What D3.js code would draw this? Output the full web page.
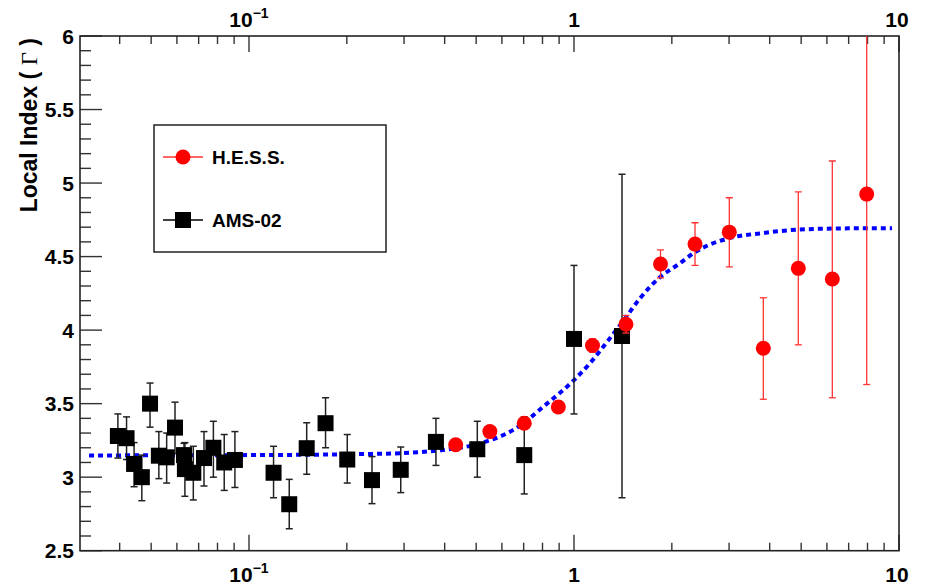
<!DOCTYPE html>
<html>
<head>
<meta charset="utf-8">
<script src="https://cdn.jsdelivr.net/npm/d3@7"></script>
<style>
    body { margin: 0; background: #fff; }
    text { font-family: "Liberation Sans", Arial, sans-serif; font-weight: bold; fill: #000; }
</style>
</head>
<body>
<div id="chart"></div>
<script>
// AMS-02 points (energy in TeV, local index, lower and upper error bounds)
const amsEnergy = [0.0395, 0.0420, 0.0443, 0.0468, 0.0496, 0.0528, 0.0558, 0.0592, 0.0631, 0.0635,
    0.0674, 0.0727, 0.0777, 0.0839, 0.0905, 0.119, 0.133, 0.1505, 0.172, 0.2006,
    0.239, 0.293, 0.376, 0.504, 0.703, 1.0, 1.405];
const amsIndex = [3.28, 3.265, 3.09, 3.0, 3.50, 3.146, 3.135, 3.337, 3.15, 3.055,
    3.03, 3.13, 3.20, 3.10, 3.117, 3.03, 2.816, 3.197, 3.367, 3.12,
    2.98, 3.05, 3.24, 3.19, 3.15, 3.94, 3.96];
const amsLow = [3.13, 3.12, 2.935, 2.84, 3.34, 2.99, 2.96, 3.16, 3.07, 2.87,
    2.845, 2.94, 3.0, 2.91, 2.93, 2.86, 2.65, 3.02, 3.2, 2.96,
    2.82, 2.895, 3.08, 3.0, 2.886, 3.43, 2.86];
const amsHigh = [3.43, 3.41, 3.235, 3.15, 3.64, 3.31, 3.30, 3.51, 3.23, 3.235,
    3.21, 3.31, 3.38, 3.29, 3.31, 3.21, 2.985, 3.37, 3.54, 3.29,
    3.14, 3.205, 3.40, 3.38, 3.41, 4.44, 5.06];

// H.E.S.S. points
const hessEnergy = [0.4325, 0.551, 0.703, 0.895, 1.14, 1.445, 1.846, 2.357, 3.005, 3.824, 4.90, 6.235, 7.955];
const hessIndex = [3.22, 3.31, 3.367, 3.477, 3.895, 4.04, 4.45, 4.585, 4.666, 3.877, 4.42, 4.348, 4.925];
const hessLow = [3.19, 3.28, 3.337, 3.44, 3.85, 3.98, 4.355, 4.44, 4.43, 3.53, 3.90, 3.54, 3.63];
const hessHigh = [3.25, 3.34, 3.397, 3.515, 3.94, 4.10, 4.545, 4.73, 4.90, 4.22, 4.94, 5.15, 6.3];

// fitted curve
const fitEnergy = [0.0322, 0.1, 0.2046, 0.2914, 0.376, 0.514, 0.649, 0.826, 1.0, 1.12, 1.264,
    1.415, 1.597, 1.839, 2.12, 2.357, 3.0, 3.815, 4.96, 7.07, 9.52];
const fitIndex = [3.148, 3.150, 3.156, 3.163, 3.18, 3.23, 3.32, 3.50, 3.66, 3.775, 3.92,
    4.06, 4.217, 4.36, 4.455, 4.53, 4.625, 4.66, 4.684, 4.692, 4.693];

const yTicks = [2.5, 3, 3.5, 4, 4.5, 5, 5.5, 6];
const xMajor = [0.1, 1, 10];
const xLabels = [["10", "\u22121"], ["1", ""], ["10", ""]];

const width = 926, height = 585;
const plotLeft = 80, plotRight = 899, plotTop = 36, plotBottom = 550.7;

const svg = d3.select("#chart").append("svg")
    .attr("width", width)
    .attr("height", height);

const x = d3.scaleLog().domain([0.0302, 10]).range([plotLeft, plotRight]);
const y = d3.scaleLinear().domain([2.5, 6]).range([plotBottom, plotTop]);

svg.append("clipPath").attr("id", "plotclip")
    .append("rect")
    .attr("x", plotLeft).attr("y", plotTop)
    .attr("width", plotRight - plotLeft).attr("height", plotBottom - plotTop);

// minor ticks for the log axis
const xMinor = [];
[0.01, 0.1, 1].forEach(function (d) {
    for (let k = 2; k <= 9; k++) {
        const v = d * k;
        if (v > 0.0302 && v < 10) xMinor.push(v);
    }
});

const axes = svg.append("g").attr("stroke", "#333").attr("stroke-width", 1.4);

// bottom ticks point up, top ticks point down
xMinor.forEach(function (v) {
    axes.append("line").attr("x1", x(v)).attr("x2", x(v)).attr("y1", plotBottom).attr("y2", plotBottom - 8);
    axes.append("line").attr("x1", x(v)).attr("x2", x(v)).attr("y1", plotTop).attr("y2", plotTop + 8);
});
xMajor.forEach(function (v) {
    axes.append("line").attr("x1", x(v)).attr("x2", x(v)).attr("y1", plotBottom).attr("y2", plotBottom - 16);
    axes.append("line").attr("x1", x(v)).attr("x2", x(v)).attr("y1", plotTop).attr("y2", plotTop + 16);
});

// left ticks
for (let i = 0; i <= 35; i++) {
    const v = 2.5 + i * 0.1;
    const major = i % 5 === 0;
    axes.append("line")
        .attr("x1", plotLeft).attr("x2", plotLeft + (major ? 22 : 11))
        .attr("y1", y(v)).attr("y2", y(v));
}

// frame
svg.append("rect")
    .attr("x", plotLeft).attr("y", plotTop)
    .attr("width", plotRight - plotLeft).attr("height", plotBottom - plotTop)
    .attr("fill", "none").attr("stroke", "#222").attr("stroke-width", 1.6);

// y tick labels
svg.selectAll(".ylab")
    .data(yTicks)
    .join("text")
    .attr("class", "ylab")
    .attr("x", 74)
    .attr("y", d => y(d) + 7.5)
    .attr("text-anchor", "end")
    .style("font-size", "21px")
    .text(d => d);

// x tick labels, top and bottom
[582, 27].forEach(function (base) {
    xMajor.forEach(function (v, i) {
        const t = svg.append("text")
            .attr("x", x(v) + (i === 2 ? -2 : 0))
            .attr("y", base)
            .attr("text-anchor", "middle")
            .style("font-size", "21px");
        t.append("tspan").text(xLabels[i][0]);
        if (xLabels[i][1] !== "") {
            t.append("tspan")
                .attr("dy", -9)
                .style("font-size", "14px")
                .text(xLabels[i][1]);
        }
    });
});

// y axis title
const title = svg.append("text")
    .attr("transform", "translate(37, 38) rotate(-90)")
    .attr("text-anchor", "end")
    .style("font-size", "23px");
title.append("tspan").text("Local Index ( ");
title.append("tspan")
    .style("font-family", "'Liberation Serif', 'DejaVu Serif', serif")
    .style("font-weight", "normal")
    .text("\u0393");
title.append("tspan").text(" )");

const plot = svg.append("g").attr("clip-path", "url(#plotclip)");

// fitted curve
const fitData = fitEnergy.map((e, i) => ({e: e, g: fitIndex[i]}));
plot.append("path")
    .datum(fitData)
    .attr("fill", "none")
    .attr("stroke", "#0000ff")
    .attr("stroke-width", 4)
    .attr("stroke-dasharray", "5,4")
    .attr("d", d3.line()
        .x(d => x(d.e))
        .y(d => y(d.g))
        .curve(d3.curveMonotoneX));

function errorBars(g, energy, low, high, color, w) {
    energy.forEach(function (e, i) {
        const px = x(e);
        g.append("line")
            .attr("x1", px).attr("x2", px)
            .attr("y1", y(low[i])).attr("y2", y(high[i]))
            .attr("stroke", color).attr("stroke-width", w);
        [low[i], high[i]].forEach(function (v) {
            g.append("line")
                .attr("x1", px - 3.5).attr("x2", px + 3.5)
                .attr("y1", y(v)).attr("y2", y(v))
                .attr("stroke", color).attr("stroke-width", w);
        });
    });
}

// AMS-02
errorBars(plot, amsEnergy, amsLow, amsHigh, "#222", 1.5);
plot.selectAll(".ams")
    .data(amsEnergy)
    .join("rect")
    .attr("class", "ams")
    .attr("x", d => x(d) - 8)
    .attr("y", (d, i) => y(amsIndex[i]) - 8)
    .attr("width", 16)
    .attr("height", 16)
    .attr("fill", "#000");

// H.E.S.S.
errorBars(plot, hessEnergy, hessLow, hessHigh, "#f33", 1.3);
plot.selectAll(".hess")
    .data(hessEnergy)
    .join("circle")
    .attr("class", "hess")
    .attr("cx", d => x(d))
    .attr("cy", (d, i) => y(hessIndex[i]))
    .attr("r", 7.5)
    .attr("fill", "#ff0000");

// legend
const legend = svg.append("g");
legend.append("rect")
    .attr("x", 154).attr("y", 125)
    .attr("width", 232).attr("height", 127)
    .attr("fill", "#fff")
    .attr("stroke", "#222")
    .attr("stroke-width", 1.5);
legend.append("line")
    .attr("x1", 163).attr("x2", 203).attr("y1", 157).attr("y2", 157)
    .attr("stroke", "#f33").attr("stroke-width", 1.3);
legend.append("circle")
    .attr("cx", 183).attr("cy", 157).attr("r", 7.5).attr("fill", "#ff0000");
legend.append("text")
    .attr("x", 212).attr("y", 164)
    .style("font-size", "19px")
    .text("H.E.S.S.");
legend.append("line")
    .attr("x1", 163).attr("x2", 203).attr("y1", 220).attr("y2", 220)
    .attr("stroke", "#000").attr("stroke-width", 1.3);
legend.append("rect")
    .attr("x", 175).attr("y", 212).attr("width", 16).attr("height", 16).attr("fill", "#000");
legend.append("text")
    .attr("x", 212).attr("y", 227)
    .style("font-size", "19px")
    .text("AMS-02");
</script>
</body>
</html>
